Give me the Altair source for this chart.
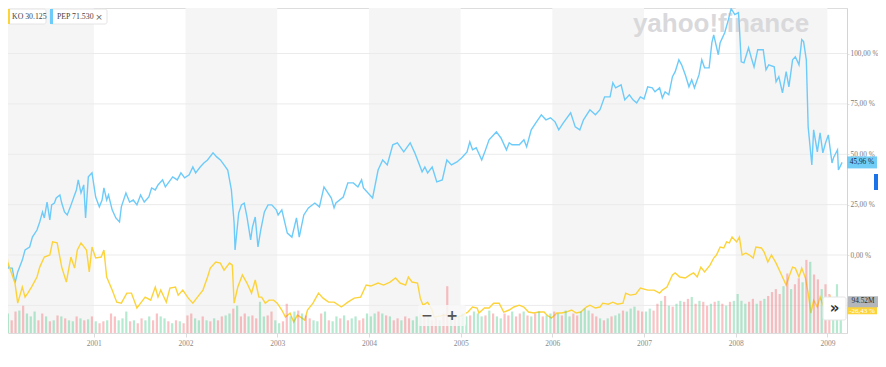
import altair as alt
import pandas as pd

# ---------------- data ----------------
PEP_YEAR = [2000.03, 2000.07, 2000.11, 2000.14, 2000.17, 2000.22, 2000.25, 2000.30, 2000.33, 2000.38,
            2000.41, 2000.44, 2000.46, 2000.49, 2000.52, 2000.54, 2000.57, 2000.59, 2000.63, 2000.65,
            2000.68, 2000.71, 2000.74, 2000.79, 2000.81, 2000.83, 2000.86, 2000.89, 2000.91, 2000.94,
            2000.98, 2001.02, 2001.06, 2001.09, 2001.11, 2001.14, 2001.16, 2001.20, 2001.24, 2001.28,
            2001.30, 2001.35, 2001.39, 2001.43, 2001.47, 2001.51, 2001.55, 2001.60, 2001.63, 2001.67,
            2001.70, 2001.75, 2001.78, 2001.82, 2001.86, 2001.91, 2001.95, 2001.99, 2002.04, 2002.08,
            2002.11, 2002.16, 2002.20, 2002.24, 2002.30, 2002.34, 2002.38, 2002.42, 2002.46, 2002.48,
            2002.50, 2002.53, 2002.54, 2002.58, 2002.61, 2002.64, 2002.67, 2002.71, 2002.73, 2002.76,
            2002.79, 2002.82, 2002.86, 2002.90, 2002.94, 2002.99, 2003.01, 2003.05, 2003.11, 2003.16,
            2003.21, 2003.24, 2003.29, 2003.34, 2003.41, 2003.46, 2003.51, 2003.59, 2003.62, 2003.64,
            2003.72, 2003.77, 2003.83, 2003.88, 2003.92, 2003.94, 2004.04, 2004.10, 2004.15, 2004.20,
            2004.26, 2004.31, 2004.38, 2004.45, 2004.50, 2004.58, 2004.61, 2004.64, 2004.69, 2004.74,
            2004.80, 2004.85, 2004.90, 2004.96, 2005.01, 2005.07, 2005.10, 2005.13, 2005.17, 2005.23,
            2005.26, 2005.31, 2005.39, 2005.44, 2005.50, 2005.53, 2005.56, 2005.64, 2005.69, 2005.72,
            2005.77, 2005.82, 2005.88, 2005.93, 2005.98, 2006.03, 2006.07, 2006.12, 2006.20, 2006.25,
            2006.30, 2006.34, 2006.41, 2006.47, 2006.52, 2006.57, 2006.63, 2006.66, 2006.69, 2006.75,
            2006.79, 2006.84, 2006.88, 2006.92, 2006.96, 2007.00, 2007.04, 2007.09, 2007.12, 2007.17,
            2007.20, 2007.23, 2007.27, 2007.31, 2007.34, 2007.38, 2007.41, 2007.45, 2007.49, 2007.52,
            2007.55, 2007.60, 2007.63, 2007.66, 2007.71, 2007.74, 2007.76, 2007.81, 2007.83, 2007.88,
            2007.92, 2007.95, 2007.99, 2008.03, 2008.04, 2008.06, 2008.09, 2008.14, 2008.17, 2008.20,
            2008.24, 2008.30, 2008.33, 2008.36, 2008.42, 2008.44, 2008.47, 2008.51, 2008.55, 2008.58,
            2008.62, 2008.65, 2008.69, 2008.72, 2008.74, 2008.77, 2008.79, 2008.83, 2008.85, 2008.89,
            2008.92, 2008.95, 2008.98, 2009.01, 2009.05, 2009.07, 2009.11, 2009.12, 2009.16]
PEP_PCT = [1.5, -6.5, -6.5, -13.9, -8.4, -2.5, 2.5, 4.0, 8.9, 12.4,
           16.4, 21.4, 18.4, 26.3, 17.4, 24.9, 25.8, 28.3, 29.8, 25.8,
           21.4, 19.9, 23.4, 29.8, 32.3, 37.3, 30.8, 34.8, 18.4, 38.8,
           40.8, 28.8, 23.9, 27.3, 33.3, 27.3, 29.8, 22.4, 18.4, 16.4,
           23.9, 30.8, 26.3, 27.3, 24.9, 29.8, 26.3, 28.8, 33.3, 32.3,
           34.8, 37.3, 33.8, 36.3, 38.8, 37.3, 40.8, 38.3, 39.8, 43.7,
           40.8, 43.7, 45.7, 47.2, 50.7, 48.7, 47.2, 44.7, 42.2, 37.3,
           32.3, 15.9, 2.5, 20.9, 24.9, 25.8, 18.9, 7.5, 13.9, 18.9,
           4.0, 12.4, 21.4, 24.9, 24.9, 22.4, 19.9, 22.4, 10.9, 8.9,
           18.4, 8.9, 19.9, 23.4, 25.8, 23.9, 33.8, 28.3, 23.4, 25.8,
           28.8, 35.8, 35.8, 33.8, 37.3, 33.3, 28.3, 42.2, 47.2, 44.7,
           54.7, 55.7, 51.2, 55.7, 50.7, 41.3, 43.7, 40.8, 43.7, 36.3,
           37.3, 47.2, 44.7, 46.2, 48.2, 51.2, 56.2, 52.2, 53.2, 47.2,
           50.7, 57.2, 61.1, 58.1, 52.2, 55.7, 54.7, 54.7, 57.2, 53.7,
           62.1, 65.6, 69.6, 67.1, 68.1, 66.1, 62.1, 65.6, 70.6, 63.6,
           62.1, 67.1, 72.1, 69.6, 72.1, 78.5, 78.5, 85.5, 83.0, 84.5,
           77.0, 79.5, 77.0, 75.5, 78.5, 77.5, 83.5, 83.0, 81.0, 83.0,
           78.0, 81.0, 79.5, 88.5, 91.0, 96.9, 94.4, 89.5, 83.5, 87.0,
           83.0, 89.5, 96.9, 92.9, 92.9, 105.4, 109.3, 99.4, 105.4, 110.3,
           116.8, 122.3, 119.3, 120.3, 113.3, 95.9, 95.4, 102.9, 97.9, 93.4,
           101.9, 101.9, 91.9, 94.4, 93.4, 86.0, 88.5, 80.5, 91.0, 83.5,
           96.9, 98.4, 94.4, 106.9, 105.9, 96.9, 63.6, 44.7, 62.1, 51.2,
           60.6, 50.7, 55.7, 59.6, 45.7, 48.7, 52.2, 42.2, 45.96]

KO_YEAR = [2000.03, 2000.06, 2000.14, 2000.17, 2000.22, 2000.25, 2000.28, 2000.32, 2000.38, 2000.41,
           2000.46, 2000.52, 2000.55, 2000.60, 2000.65, 2000.70, 2000.75, 2000.79, 2000.82, 2000.86,
           2000.92, 2000.95, 2000.98, 2001.02, 2001.08, 2001.11, 2001.14, 2001.20, 2001.25, 2001.30,
           2001.36, 2001.41, 2001.47, 2001.51, 2001.56, 2001.62, 2001.67, 2001.70, 2001.73, 2001.79,
           2001.83, 2001.89, 2001.92, 2001.97, 2002.03, 2002.08, 2002.13, 2002.19, 2002.24, 2002.27,
           2002.33, 2002.38, 2002.42, 2002.48, 2002.51, 2002.53, 2002.57, 2002.62, 2002.67, 2002.72,
           2002.76, 2002.80, 2002.83, 2002.87, 2002.91, 2002.96, 2003.00, 2003.05, 2003.09, 2003.14,
           2003.18, 2003.22, 2003.27, 2003.30, 2003.33, 2003.39, 2003.45, 2003.50, 2003.56, 2003.62,
           2003.70, 2003.77, 2003.84, 2003.91, 2003.97, 2004.02, 2004.10, 2004.16, 2004.23, 2004.29,
           2004.34, 2004.40, 2004.43, 2004.47, 2004.53, 2004.56, 2004.59, 2004.64, 2004.69, 2004.71,
           2004.83, 2004.94, 2005.02, 2005.08, 2005.13, 2005.18, 2005.20, 2005.26, 2005.31, 2005.36,
           2005.42, 2005.47, 2005.53, 2005.58, 2005.64, 2005.69, 2005.74, 2005.80, 2005.85, 2005.91,
           2005.94, 2005.99, 2006.05, 2006.10, 2006.15, 2006.21, 2006.26, 2006.31, 2006.37, 2006.41,
           2006.47, 2006.52, 2006.55, 2006.61, 2006.66, 2006.71, 2006.77, 2006.80, 2006.85, 2006.91,
           2006.96, 2007.04, 2007.11, 2007.17, 2007.20, 2007.25, 2007.31, 2007.34, 2007.39, 2007.45,
           2007.50, 2007.54, 2007.58, 2007.62, 2007.66, 2007.72, 2007.76, 2007.79, 2007.83, 2007.87,
           2007.90, 2007.93, 2007.96, 2008.01, 2008.04, 2008.07, 2008.11, 2008.15, 2008.19, 2008.22,
           2008.28, 2008.31, 2008.35, 2008.39, 2008.44, 2008.49, 2008.55, 2008.58, 2008.62, 2008.65,
           2008.69, 2008.72, 2008.76, 2008.79, 2008.82, 2008.85, 2008.89, 2008.92, 2008.96, 2009.00,
           2009.03, 2009.06, 2009.12, 2009.16]
KO_PCT = [13.9, -3.5, -13.9, -23.9, -15.9, -20.9, -18.9, -15.9, -10.9, -6.0,
          -1.0, 0.0, 6.5, 6.0, -6.0, -13.4, -1.0, -6.5, 2.5, 6.0,
          2.5, -8.4, 4.0, -1.5, -1.0, 2.5, -10.9, -17.4, -23.4, -23.9,
          -18.9, -18.9, -26.3, -23.9, -20.9, -22.4, -15.9, -20.9, -17.4, -23.4,
          -16.4, -15.9, -19.9, -17.4, -21.4, -23.9, -20.9, -17.4, -10.9, -6.5,
          -3.5, -4.0, -7.5, -4.0, -5.0, -23.9, -15.9, -9.9, -13.9, -18.9,
          -12.4, -20.9, -20.9, -23.9, -22.4, -22.4, -23.9, -27.3, -30.8, -28.8,
          -33.3, -29.8, -31.3, -32.3, -27.3, -23.9, -18.9, -21.4, -23.4, -23.4,
          -25.8, -23.4, -21.4, -20.9, -14.9, -15.4, -13.9, -14.9, -13.4, -11.4,
          -13.9, -14.9, -10.9, -13.4, -13.9, -21.4, -24.9, -23.4, -27.3, -30.8,
          -29.8, -31.3, -29.8, -28.3, -25.8, -26.3, -28.8, -26.3, -26.3, -23.9,
          -23.9, -28.3, -27.3, -25.8, -24.9, -25.8, -28.3, -28.8, -28.3, -28.3,
          -29.8, -31.3, -28.8, -28.8, -28.3, -27.3, -28.8, -28.3, -25.8, -24.9,
          -26.3, -25.8, -23.9, -24.4, -23.4, -24.4, -23.9, -18.9, -19.9, -19.4,
          -16.4, -17.4, -17.4, -18.9, -17.4, -15.9, -9.9, -8.9, -10.9, -11.4,
          -9.9, -8.9, -10.9, -6.0, -8.4, -5.0, -1.5, 0.0, 4.0, 3.5,
          6.5, 6.0, 8.9, 6.5, 8.9, 0.0, 1.0, 0.0, -1.5, 4.0,
          3.5, 1.5, -3.5, 0.0, -4.0, -8.9, -14.9, -10.9, -6.0, -6.5,
          -10.9, -6.5, -11.4, -18.9, -28.8, -22.4, -25.8, -20.9, -25.8, -23.4,
          -20.9, -28.8, -25.8, -26.43]

# volume in millions, two bars per month, per calendar year
VOL = {
    2000: [45, 60, 39, 66, 69, 84, 60, 51, 66, 39, 60, 51, 36, 39, 54, 51, 45, 39, 36, 51, 45, 39, 42, 51],
    2001: [36, 30, 36, 39, 60, 51, 39, 45, 66, 36, 39, 30, 45, 39, 51, 39, 60, 51, 45, 36, 30, 39, 36, 30],
    2002: [54, 60, 45, 39, 51, 39, 36, 45, 39, 51, 54, 60, 75, 84, 51, 60, 51, 54, 45, 96, 51, 54, 66, 39],
    2003: [30, 36, 90, 51, 66, 69, 60, 54, 45, 39, 36, 60, 66, 39, 36, 51, 45, 54, 39, 45, 51, 39, 45, 60],
    2004: [51, 60, 66, 60, 54, 51, 39, 45, 39, 51, 45, 39, 51, 60, 54, 51, 39, 45, 39, 60, 144, 60, 45, 51],
    2005: [60, 51, 54, 66, 60, 51, 54, 69, 60, 51, 45, 60, 54, 66, 51, 60, 66, 54, 51, 60, 66, 51, 54, 60],
    2006: [66, 60, 54, 69, 51, 60, 54, 66, 75, 69, 60, 51, 45, 39, 45, 51, 54, 60, 69, 66, 75, 81, 69, 66],
    2007: [66, 75, 69, 90, 99, 114, 84, 81, 90, 99, 96, 105, 111, 90, 99, 96, 84, 90, 96, 99, 90, 84, 96, 99],
    2008: [120, 99, 90, 96, 105, 90, 99, 105, 114, 126, 135, 120, 144, 183, 135, 150, 168, 156, 225, 219,
           180, 165, 135, 150],
    2009: [120, 105, 150, 94.52],
}
VOL_DIR = {
    2000: "rgrrgrgggrrgrgrgrggrgrgr",
    2001: "grrgrrgggrgrrggrrggrgrgr",
    2002: "rrggrgrgrrggrgrrgrrggrrg",
    2003: "grrggrgrrggrgrggrgrggrrg",
    2004: "ggrgrgrrgrrgggrgrrgrrgrg",
    2005: "ggrgggrgrggrrgrrgrgrgrgg",
    2006: "rgrggrrgggrrgrgrggrgggrr",
    2007: "ggrrgrgrggrrgrgrrgrgrgrg",
    2008: "gggrrgrgrrrrgrgrrgrgrrgr",
    2009: "rggg",
}

BAND_YEARS = [2000, 2002, 2004, 2006, 2008]
GRID_PCT = [-25, 0, 25, 50, 75, 100]
AXIS_PCT = [0, 25, 50, 75, 100]
TICK_YEARS = list(range(2001, 2010))

LEGEND_TEXT = ["KO 30.125", "PEP 71.530"]
LAST_PCT = [45.96, -26.43]
LAST_PCT_TEXT = ["45,96 %", "-26,43 %"]
LAST_PCT_FILL = ["#72cdf6", "#fdd33a"]
LAST_PCT_INK = ["#1d2a33", "#ffffff"]
LAST_VOL = [94.52]
LAST_VOL_TEXT = ["94.52M"]

# ---------------- layout / style ----------------
W, H = 839, 325
RIGHT = 31            # room for the right-hand labels (whole svg = 870 px)
X_DOMAIN = [2000.1185, 2009.159]
Y_DOMAIN = [-38.7, 122.6]
VOL_DOMAIN = [0, 1000]
SERIF = "Liberation Serif"
PEP_C = "#6dcbfa"
KO_C = "#fdd33a"

XS = alt.Scale(domain=X_DOMAIN, nice=False, zero=False)
YS = alt.Scale(domain=Y_DOMAIN, nice=False, zero=False)
VS = alt.Scale(domain=VOL_DOMAIN, nice=False)

X_AXIS = alt.Axis(values=TICK_YEARS, format="d", labelFont=SERIF, labelFontSize=7.5,
                  labelColor="#8a8a8a", tickSize=4, tickColor="#dcdcdc", domain=False,
                  grid=False, labelPadding=2, title=None)
Y_AXIS = alt.Axis(orient="right", values=AXIS_PCT,
                  labelExpr="replace(format(datum.value, '.2f'), '.', ',') + ' %'",
                  labelFont=SERIF, labelFontSize=7.3, labelColor="#7a7a7a", tickSize=2,
                  tickColor="#e2e2e2", domainColor="#d4d4d4", grid=False, labelPadding=1,
                  title=None)


def X(field):
    return alt.X(field, type="quantitative", scale=XS, axis=X_AXIS)


def Y(field):
    return alt.Y(field, type="quantitative", scale=YS, axis=Y_AXIS)


pep = pd.DataFrame({"year": PEP_YEAR, "pct": PEP_PCT})
ko = pd.DataFrame({"year": KO_YEAR, "pct": KO_PCT})
bands = pd.DataFrame({"start": BAND_YEARS, "end": [b + 1 for b in BAND_YEARS]})
grid = pd.DataFrame({"pct": GRID_PCT})
rows = []
for yr, vals in VOL.items():
    for i, (v, d) in enumerate(zip(vals, VOL_DIR[yr])):
        rows.append({"year": yr + (i + 0.5) / 24, "vol": v, "dir": d})
vol = pd.DataFrame(rows)
lastp = pd.DataFrame({"pct": LAST_PCT, "text": LAST_PCT_TEXT,
                      "fill": LAST_PCT_FILL, "ink": LAST_PCT_INK})
lastv = pd.DataFrame({"vol": LAST_VOL, "text": LAST_VOL_TEXT})
one = pd.DataFrame({"k": [0]})

# ---------------- main (percent) layer ----------------
band_l = alt.Chart(bands).mark_rect(color="#f5f5f5", clip=True).encode(
    x=X("start"), x2="end", y=alt.value(0), y2=alt.value(H))
grid_l = alt.Chart(grid).mark_rule(color="#ebebeb", strokeWidth=1).encode(y=Y("pct"))
logo_l = alt.Chart(one).mark_text(text="yahoo!finance", font="Liberation Sans", fontSize=26,
                                  fontWeight="bold", color="#d9d9dc", align="center",
                                  baseline="alphabetic").encode(x=alt.value(713), y=alt.value(24))
pep_l = alt.Chart(pep).mark_line(color=PEP_C, strokeWidth=1.4, clip=True).encode(
    x=X("year"), y=Y("pct"))
ko_l = alt.Chart(ko).mark_line(color=KO_C, strokeWidth=1.4, clip=True).encode(
    x=X("year"), y=Y("pct"))

leg_box1 = alt.Chart(one).mark_rect(fill="white", stroke="#e4e4e4", strokeWidth=1,
                                    cornerRadius=2).encode(
    x=alt.value(0), x2=alt.value(38), y=alt.value(1), y2=alt.value(16))
leg_bar1 = alt.Chart(one).mark_rect(fill=KO_C).encode(
    x=alt.value(0), x2=alt.value(2), y=alt.value(1), y2=alt.value(16))
leg_box2 = alt.Chart(one).mark_rect(fill="white", stroke="#e4e4e4", strokeWidth=1,
                                    cornerRadius=2).encode(
    x=alt.value(42), x2=alt.value(99), y=alt.value(1), y2=alt.value(16))
leg_bar2 = alt.Chart(one).mark_rect(fill=PEP_C).encode(
    x=alt.value(42), x2=alt.value(45), y=alt.value(1), y2=alt.value(16))
leg_t1 = alt.Chart(pd.DataFrame({"text": [LEGEND_TEXT[0]]})).mark_text(
    font=SERIF, fontSize=7.8, color="#444", align="left", baseline="middle").encode(
    x=alt.value(4), y=alt.value(8.5), text="text:N")
leg_t2 = alt.Chart(pd.DataFrame({"text": [LEGEND_TEXT[1]]})).mark_text(
    font=SERIF, fontSize=7.8, color="#444", align="left", baseline="middle").encode(
    x=alt.value(49), y=alt.value(8.5), text="text:N")
leg_x = alt.Chart(one).mark_text(text="×", font="DejaVu Sans", fontSize=9, color="#666",
                                 align="center", baseline="middle").encode(
    x=alt.value(91), y=alt.value(8.5))

lab_box = alt.Chart(lastp).mark_rect(yOffset=-6, y2Offset=6, clip=False).encode(
    x=alt.value(W), x2=alt.value(W + 30), y=Y("pct"), y2="pct",
    fill=alt.Fill("fill:N", scale=None))
lab_txt_pep = alt.Chart(lastp.iloc[[0]]).mark_text(
    font=SERIF, fontSize=7.3, align="center", baseline="middle", clip=False).encode(
    x=alt.value(W + 15), y=Y("pct"), text="text:N", fill=alt.Fill("ink:N", scale=None))
lab_txt_ko = alt.Chart(lastp.iloc[[1]]).mark_text(
    font=SERIF, fontSize=7, align="center", baseline="middle", dy=3, clip=False).encode(
    x=alt.value(W + 15), y=Y("pct"), text="text:N", fill=alt.Fill("ink:N", scale=None))

main = alt.layer(band_l, grid_l, logo_l, pep_l, ko_l, leg_box1, leg_bar1, leg_box2, leg_bar2,
                 leg_t1, leg_t2, leg_x, lab_box, lab_txt_pep, lab_txt_ko)

# ---------------- volume layer ----------------
vol_l = alt.Chart(vol).mark_bar(size=2.2, opacity=0.42, clip=True).encode(
    x=X("year"), y=alt.Y("vol:Q", scale=VS, axis=None),
    color=alt.Color("dir:N", scale=alt.Scale(domain=["g", "r"], range=["#4fcb8f", "#f46d73"]),
                    legend=None))
vbox = alt.Chart(lastv).mark_rect(fill="#b3b7bb", yOffset=-6, y2Offset=5, clip=False).encode(
    x=alt.value(W + 1), x2=alt.value(W + RIGHT), y=alt.Y("vol:Q", scale=VS, axis=None), y2="vol")
vtxt = alt.Chart(lastv).mark_text(font=SERIF, fontSize=7.3, color="#2a2a2a", align="center",
                                  baseline="middle", dy=-1, clip=False).encode(
    x=alt.value(W + 16), y=alt.Y("vol:Q", scale=VS, axis=None), text="text:N")

zoom_box = alt.Chart(one).mark_rect(fill="#f8f8f8", opacity=0.85, cornerRadius=2).encode(
    x=alt.value(410), x2=alt.value(458), y=alt.value(297), y2=alt.value(318))
zoom_minus = alt.Chart(one).mark_text(text="−", font="DejaVu Sans", fontSize=14,
                                      fontWeight="bold", color="#555", align="center",
                                      baseline="middle").encode(x=alt.value(419), y=alt.value(308))
zoom_plus = alt.Chart(one).mark_text(text="+", font="DejaVu Sans", fontSize=14,
                                     fontWeight="bold", color="#555", align="center",
                                     baseline="middle").encode(x=alt.value(444), y=alt.value(308))
more_box = alt.Chart(one).mark_rect(fill="white", stroke="#e6e6e6", cornerRadius=2).encode(
    x=alt.value(815), x2=alt.value(838), y=alt.value(289), y2=alt.value(312))
more_txt = alt.Chart(one).mark_text(text="»", font="DejaVu Sans", fontSize=15,
                                    fontWeight="bold", color="#333", align="center",
                                    baseline="middle").encode(x=alt.value(826.5), y=alt.value(299.5))
side_btn = alt.Chart(one).mark_rect(fill="#1a73e8", clip=False).encode(
    x=alt.value(W + RIGHT - 4), x2=alt.value(W + RIGHT), y=alt.value(166), y2=alt.value(182))

volume = alt.layer(vol_l, vbox, vtxt, zoom_box, zoom_minus, zoom_plus, more_box, more_txt, side_btn)

chart = alt.layer(main, volume).resolve_scale(y="independent", color="independent").properties(
    width=W, height=H,
    autosize=alt.AutoSizeParams(type="none"),
    padding={"left": 0, "top": 0, "right": RIGHT, "bottom": 18},
).configure_view(stroke=None).configure(background="white")

chart.save("out.html", embed_options={"renderer": "svg", "actions": False})
